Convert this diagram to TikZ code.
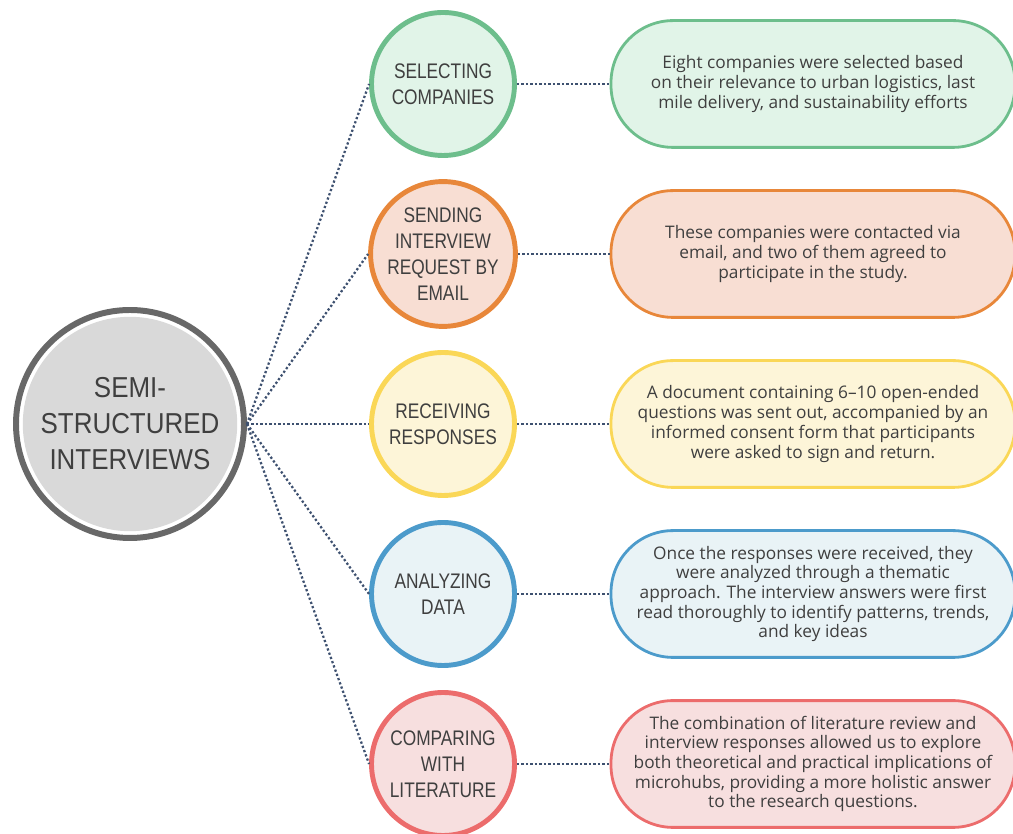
\documentclass[tikz,border=0pt]{standalone}
\usepackage{fontspec}
\setmainfont{Open Sans}
\newfontfamily\capsfont[FakeStretch=0.82]{Liberation Sans}
\newfontfamily\hubfont[FakeStretch=0.9]{Liberation Sans}
\usepackage{xcolor}
\usepackage{tikz}

\definecolor{ringgray}{HTML}{686868}
\definecolor{hubfill}{HTML}{D9D9D9}
\definecolor{inkgray}{HTML}{3F3F3F}
\definecolor{linkblue}{HTML}{3E5170}
\definecolor{greenline}{HTML}{6DBE8C}
\definecolor{greenfill}{HTML}{E1F4E8}
\definecolor{orangeline}{HTML}{E8873A}
\definecolor{orangefill}{HTML}{F8DED3}
\definecolor{yellowline}{HTML}{FAD757}
\definecolor{yellowfill}{HTML}{FDF5D8}
\definecolor{blueline}{HTML}{4C9BCB}
\definecolor{bluefill}{HTML}{E9F3F6}
\definecolor{redline}{HTML}{EC6C6C}
\definecolor{redfill}{HTML}{F7DFDF}

\tikzset{
  hub/.style={circle, draw=ringgray, line width=4.25pt, fill=white,
    minimum size=5.7cm, inner sep=0pt, align=center, text=inkgray,
    font=\hubfont\fontsize{20.5}{25.6}\selectfont,
    path picture={\fill[hubfill] (path picture bounding box.center) circle (2.68cm);}},
  stage/.style={circle, minimum size=3.575cm, line width=3.5pt, inner sep=0pt,
    align=center, text=inkgray, font=\capsfont\fontsize{15}{18.5}\selectfont},
  note/.style={rectangle, rounded corners=1.55cm, minimum width=10.1cm,
    minimum height=3.17cm, line width=2pt, align=center, text=inkgray,
    font=\fontsize{12.3}{14}\selectfont},
  link/.style={draw=linkblue, line width=1.6pt, dash pattern=on 1.6pt off 1.6pt}
}

\begin{document}
\begin{tikzpicture}
\useasboundingbox (0,0) rectangle (25.325,20.85);

% centre
\node[hub] (hub) at (3.25,10.25) {SEMI-\\STRUCTURED\\INTERVIEWS};

% stages
\node[stage, draw=greenline, fill=greenfill]   (select)  at (11.075,18.75) {SELECTING\\COMPANIES};
\node[stage, draw=orangeline, fill=orangefill] (request) at (11.075,14.5)  {SENDING\\INTERVIEW\\REQUEST BY\\EMAIL};
\node[stage, draw=yellowline, fill=yellowfill] (receive) at (11.075,10.25) {RECEIVING\\RESPONSES};
\node[stage, draw=blueline, fill=bluefill]     (analyze) at (11.075,6.0)   {ANALYZING\\DATA};
\node[stage, draw=redline, fill=redfill]       (compare) at (11.075,1.75)  {COMPARING\\WITH\\LITERATURE};

% notes
\node[note, draw=greenline, fill=greenfill]   (selectnote)  at (20.325,18.75)
  {Eight companies were selected based\\on their relevance to urban logistics, last\\mile delivery, and sustainability efforts};
\node[note, draw=orangeline, fill=orangefill] (requestnote) at (20.325,14.5)
  {These companies were contacted via\\email, and two of them agreed to\\participate in the study.};
\node[note, draw=yellowline, fill=yellowfill] (receivenote) at (20.325,10.25)
  {A document containing 6–10 open-ended\\questions was sent out, accompanied by an\\informed consent form that participants\\were asked to sign and return.};
\node[note, draw=blueline, fill=bluefill]     (analyzenote) at (20.325,6.0)
  {Once the responses were received, they\\were analyzed through a thematic\\approach. The interview answers were first\\read thoroughly to identify patterns, trends,\\and key ideas};
\node[note, draw=redline, fill=redfill]       (comparenote) at (20.325,1.75)
  {The combination of literature review and\\interview responses allowed us to explore\\both theoretical and practical implications of\\microhubs, providing a more holistic answer\\to the research questions.};

\path[link]
  (hub.east) edge (select.west)
  (hub.east) edge (request.west)
  (hub.east) edge (receive.west)
  (hub.east) edge (analyze.west)
  (hub.east) edge (compare.west)
  (select.east)  edge (selectnote.west)
  (request.east) edge (requestnote.west)
  (receive.east) edge (receivenote.west)
  (analyze.east) edge (analyzenote.west)
  (compare.east) edge (comparenote.west);

\end{tikzpicture}
\end{document}
